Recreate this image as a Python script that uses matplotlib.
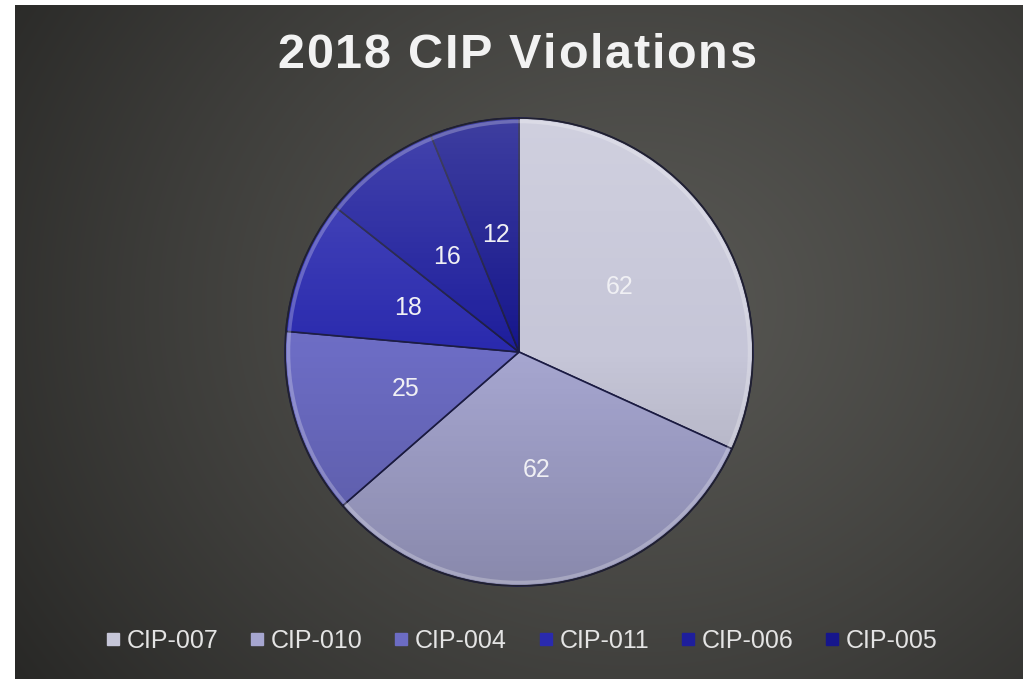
import numpy as np
import matplotlib
matplotlib.use("Agg")
import matplotlib.pyplot as plt
from matplotlib.lines import Line2D
from matplotlib.patches import Circle

plt.rcParams["font.family"] = ["Liberation Sans", "DejaVu Sans"]

# data
categories = ["CIP-007", "CIP-010", "CIP-004", "CIP-011", "CIP-006", "CIP-005"]
violations = [62, 62, 25, 18, 16, 12]
colors = ["#c6c6d8", "#a6a6d0", "#6c6cc4", "#2a2aae", "#1e1e9c", "#16168c"]
title = "2018 CIP Violations"

W, H = 1023, 679
fig = plt.figure(figsize=(W / 100, H / 100), dpi=100)
fig.patch.set_facecolor("white")

# dark gradient panel
px0, py0 = 15, 5
bg = fig.add_axes([px0 / W, 0, (W - px0) / W, (H - py0) / H])
bg.set_axis_off()
pw, ph = W - px0, H - py0
yy, xx = np.mgrid[0:ph, 0:pw]
d = np.sqrt(((xx - 620) / 1.15) ** 2 + (yy - 300) ** 2) / 620
v = np.clip(0.34 - 0.17 * d ** 1.3, 0.16, 0.34)
img = np.dstack([v, v * 0.995, v * 0.95])
bg.imshow(img, aspect="auto", extent=[0, 1, 0, 1], interpolation="bilinear")
bg.set_xlim(0, 1)
bg.set_ylim(0, 1)

# pie
cx, cy, r = 519, 352, 234
ax = fig.add_axes([(cx - r) / W, (H - cy - r) / H, 2 * r / W, 2 * r / H])
wedges, texts, autotexts = ax.pie(
    violations,
    colors=colors,
    startangle=90,
    counterclock=False,
    autopct=lambda p: f"{p * sum(violations) / 100:.0f}",
    pctdistance=0.51,
    wedgeprops=dict(edgecolor="#1c1c44", linewidth=1.2),
    textprops=dict(color="#f0f0f4", fontsize=18),
)
ax.set_aspect("equal")

# soft vertical shading for the bevel look
shade = np.linspace(1, 0, 256)
sh = np.zeros((256, 1, 4))
sh[:, 0, :3] = np.where(shade > 0.5, 1.0, 0.0)[:, None]
sh[:, 0, 3] = np.abs(shade - 0.5) * 0.35
im = ax.imshow(sh, extent=[-1, 1, -1, 1], aspect="auto", zorder=3, interpolation="bilinear")
im.set_clip_path(Circle((0, 0), 1, transform=ax.transData))
ax.add_patch(Circle((0, 0), 0.985, fill=False, edgecolor="white", alpha=0.25, lw=2.5, zorder=4))
ax.add_patch(Circle((0, 0), 1.0, fill=False, edgecolor="#202030", lw=1.2, zorder=4))
ax.set_xlim(-1, 1)
ax.set_ylim(-1, 1)
for t in autotexts:
    t.set_zorder(5)
    t.set_y(t.get_position()[1])

# title with a little letter spacing
renderer = fig.canvas.get_renderer()
tracking = 1.7
tprops = dict(fontsize=35, fontweight="bold", color="#f2f2f2", va="center", ha="left")
widths = []
for ch in title:
    tmp = fig.text(0, 0, ch if ch != " " else "a a", **tprops)
    w = tmp.get_window_extent(renderer).width
    if ch == " ":
        w -= 2 * fig.text(0, 0, "a", **tprops).get_window_extent(renderer).width
        fig.texts.pop()
    fig.texts.pop()
    widths.append(w)
total = sum(widths) + tracking * (len(title) - 1)
xpos = 517 - total / 2
for ch, w in zip(title, widths):
    if ch != " ":
        fig.text(xpos / W, 1 - 55 / H, ch, **tprops)
    xpos += w + tracking

handles = [Line2D([], [], marker="s", linestyle="none", markersize=8,
                  markerfacecolor=c, markeredgecolor=c) for c in colors]
fig.legend(handles, categories, loc="center", bbox_to_anchor=(522 / W, 1 - 641 / H),
           ncol=6, frameon=False, fontsize=18, labelcolor="#e4e4e4",
           handlelength=0.5, handletextpad=0.3, columnspacing=1.3)

fig.savefig("out.png", dpi=100, facecolor=fig.get_facecolor())
